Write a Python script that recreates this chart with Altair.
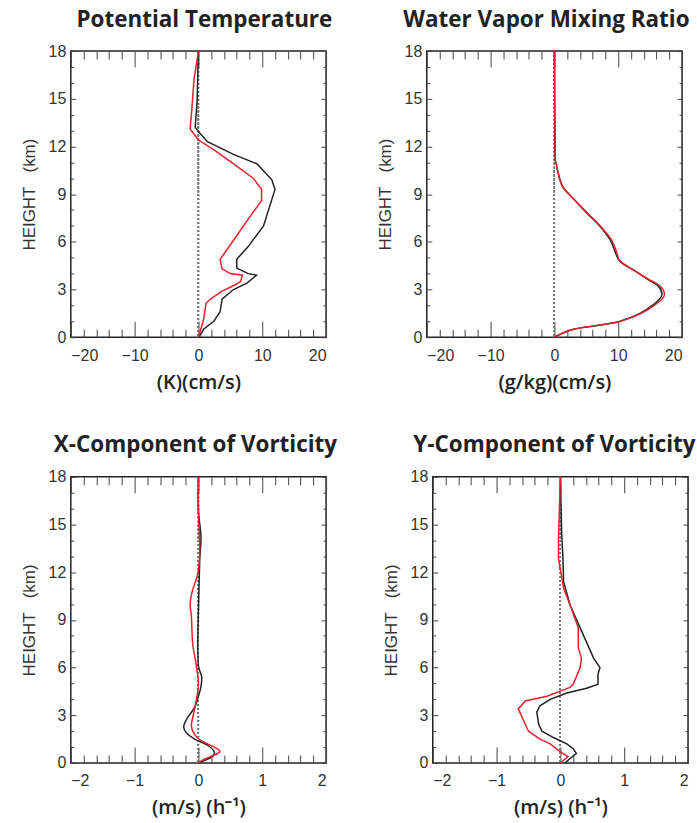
import altair as alt
import pandas as pd

# ---------------- data ----------------
# Potential Temperature  (K)(cm/s)
pt_black_h = [0, 0.5, 1.0, 1.6, 2.4, 3.0, 3.4, 3.9, 4.0, 4.35, 4.9, 5.7, 7.0, 9.3, 9.9, 10.9, 11.5, 12.3, 12.8, 13.2, 14.9, 18]
pt_black_x = [0.1, 0.8, 2.4, 3.4, 3.7, 5.5, 7.6, 9.1, 7.8, 6.0, 6.0, 7.8, 10.2, 12.0, 11.5, 9.2, 5.5, 1.4, 0.3, -0.5, -0.2, 0]
pt_red_h = [0, 1.1, 2.15, 2.4, 2.9, 3.3, 3.5, 3.9, 4.0, 4.3, 4.9, 6.1, 7.6, 8.6, 9.3, 10.0, 10.9, 11.8, 12.4, 13.1, 14.5, 16.2, 18]
pt_red_x = [0, 0.8, 1.2, 1.9, 3.7, 5.8, 6.6, 6.9, 5.0, 3.7, 3.4, 5.5, 8.1, 9.9, 9.9, 8.6, 5.5, 2.4, 0, -1.3, -1.0, -0.7, 0]

# Water Vapor Mixing Ratio  (g/kg)(cm/s)
wv_h = [0, 0.5, 0.8, 1.0, 1.5, 2.05, 2.6, 3.2, 3.7, 4.25, 4.6, 4.9, 5.4, 6.15, 7.0, 7.8, 8.7, 9.4, 10.0, 10.9, 11.8, 18]
wv_black_x = [0, 3.0, 7.7, 10.3, 13.4, 15.5, 16.8, 16.3, 14.4, 12.3, 10.8, 10.0, 9.5, 8.7, 7.1, 5.1, 3.0, 1.4, 0.8, 0.3, 0.1, 0]
wv_red_x = [0, 3.0, 7.7, 10.4, 13.6, 15.8, 17.2, 16.6, 14.5, 12.3, 10.9, 10.1, 9.7, 8.9, 7.2, 5.2, 3.0, 1.4, 0.8, 0.3, 0.1, 0]

# X-Component of Vorticity  (m/s)(h^-1)
xv_black_h = [0, 0.35, 0.67, 1.1, 1.5, 1.9, 2.3, 2.85, 3.5, 4.2, 4.8, 5.45, 6.1, 7.5, 9.6, 12.75, 14.2, 15.9, 18]
xv_black_x = [0, 0.2, 0.25, 0.15, -0.06, -0.19, -0.23, -0.17, -0.06, 0, 0.04, 0.05, 0, -0.01, 0, 0.02, 0.04, 0, 0]
xv_red_h = [0, 0.25, 0.67, 1.0, 1.4, 1.8, 2.3, 2.85, 3.8, 5.0, 6.3, 7.5, 9.2, 10.0, 10.9, 11.9, 13.4, 15.9, 18]
xv_red_x = [0, 0.1, 0.33, 0.25, 0.04, -0.06, -0.11, -0.09, -0.04, 0, -0.04, -0.09, -0.11, -0.13, -0.09, -0.01, 0.02, 0, 0]

# Y-Component of Vorticity  (m/s)(h^-1)
yv_black_h = [0, 0.6, 0.9, 1.2, 1.6, 2.0, 2.45, 3.2, 3.6, 4.0, 4.4, 4.7, 4.95, 5.6, 6.0, 6.6, 8.5, 9.95, 11.4, 12.85, 14.5, 18]
yv_black_x = [0.07, 0.25, 0.2, 0.1, -0.11, -0.29, -0.34, -0.37, -0.32, -0.16, 0.1, 0.41, 0.59, 0.59, 0.62, 0.52, 0.31, 0.15, 0.05, 0.04, 0.02, 0]
yv_red_h = [0, 0.4, 0.7, 1.2, 1.5, 2.0, 3.4, 3.9, 4.2, 4.75, 4.95, 6.0, 6.6, 7.25, 8.5, 9.95, 11.0, 12.85, 14.1, 18]
yv_red_x = [0, 0.12, 0.0, -0.16, -0.32, -0.5, -0.66, -0.55, -0.21, 0.15, 0.2, 0.31, 0.33, 0.28, 0.28, 0.15, 0.05, -0.03, -0.03, 0]

titles = ["Potential Temperature", "Water Vapor Mixing Ratio",
          "X-Component of Vorticity", "Y-Component of Vorticity"]
x_titles = ["(K)(cm/s)", "(g/kg)(cm/s)", "(m/s) (h\u207b\u00b9)", "(m/s) (h\u207b\u00b9)"]
y_title = "HEIGHT\u00a0\u00a0\u00a0(km)"
y_major = [0, 3, 6, 9, 12, 15, 18]
y_minor = [v for v in range(0, 19) if v % 3 != 0]
big_major = [-20, -10, 0, 10, 20]
big_minor = [v for v in range(-20, 21, 2) if v % 10 != 0]
small_major = [-2, -1, 0, 1, 2]
small_minor = [round(v * 0.2, 1) for v in range(-10, 11) if v % 5 != 0]

W, H = 256, 287
TICK = "#444"


def tick_axis(orient, values, size):
    return alt.Axis(orient=orient, values=values, labels=False, ticks=True,
                    tickSize=size, offset=-size, domain=False, grid=False,
                    tickColor=TICK, tickWidth=1)


def panel(title, title_dx, xtitle, dom, xmaj, xmin, bh, bx, rh, rx, interp):
    black = pd.DataFrame({"h": bh, "x": bx})
    red = pd.DataFrame({"h": rh, "x": rx})
    xs = alt.Scale(domain=dom, nice=False, zero=False)
    ys = alt.Scale(domain=[0, 18], nice=False, zero=False)

    main = alt.Chart(black).mark_line(color="#222222", strokeWidth=1.5, interpolate=interp).encode(
        x=alt.X("x:Q", scale=xs, title=xtitle,
                axis=alt.Axis(orient="bottom", values=xmaj, ticks=False, domain=False, grid=False,
                              labelFont="Liberation Sans", labelFontSize=16, labelColor="#333",
                              labelPadding=10, titleFont="Open Sans", titleFontSize=20,
                              titleFontWeight=600, titleColor="#222", titlePadding=9)),
        y=alt.Y("h:Q", scale=ys, title=y_title,
                axis=alt.Axis(orient="left", values=y_major, ticks=False, domain=False, grid=False,
                              labelFont="Liberation Sans", labelFontSize=16, labelColor="#333",
                              labelPadding=5, titleFont="Liberation Sans", titleFontSize=17,
                              titleFontWeight="normal", titleColor="#333", titlePadding=10)),
        order="h:Q",
    )
    redl = alt.Chart(red).mark_line(color="#e8202a", strokeWidth=1.5, interpolate=interp).encode(
        x=alt.X("x:Q", scale=xs, axis=None),
        y=alt.Y("h:Q", scale=ys, axis=None),
        order="h:Q",
    )
    zero = alt.Chart(black).mark_rule(color="#777", strokeDash=[1.5, 2.5], strokeWidth=1.2).encode(
        x=alt.X(datum=0, type="quantitative", scale=xs, axis=None)
    )

    def ghost(xa, ya):
        return alt.Chart(black).mark_line(opacity=0).encode(
            x=alt.X("x:Q", scale=xs, title=None, axis=xa),
            y=alt.Y("h:Q", scale=ys, title=None, axis=ya),
            order="h:Q",
        )

    g1 = ghost(tick_axis("bottom", xmaj, 16), tick_axis("left", y_major, 5))
    g2 = ghost(tick_axis("bottom", xmin, 8), tick_axis("left", y_minor, 3))
    g3 = ghost(tick_axis("top", xmaj, 16), tick_axis("right", y_major, 5))
    g4 = ghost(tick_axis("top", xmin, 8), tick_axis("right", y_minor, 3))

    return alt.layer(zero, main, redl, g1, g2, g3, g4).resolve_axis(
        x="independent", y="independent"
    ).properties(
        width=W, height=H,
        title=alt.TitleParams(title, font="Open Sans", fontSize=22.5, fontWeight="bold",
                              color="#222", anchor="middle", offset=12, dx=title_dx),
    )


p1 = panel(titles[0], 6, x_titles[0], [-20, 20], big_major, big_minor,
           pt_black_h, pt_black_x, pt_red_h, pt_red_x, "linear")
p2 = panel(titles[1], -8, x_titles[1], [-20, 20], big_major, big_minor,
           wv_h, wv_black_x, wv_h, wv_red_x, "cardinal")
p3 = panel(titles[2], -3, x_titles[2], [-2, 2], small_major, small_minor,
           xv_black_h, xv_black_x, xv_red_h, xv_red_x, "cardinal")
p4 = panel(titles[3], -6, x_titles[3], [-2, 2], small_major, small_minor,
           yv_black_h, yv_black_x, yv_red_h, yv_red_x, "linear")

row1 = alt.hconcat(p1, p2, spacing=41)
row2 = alt.hconcat(p3, p4, spacing=43)

chart = alt.vconcat(row1, row2, spacing=40).properties(
    padding={"left": 19, "top": 6, "right": 0, "bottom": 0}
).configure_view(stroke="#222", strokeWidth=1.5).configure_axis(grid=False)

chart.save("out.html", embed_options={"renderer": "svg", "actions": False})
